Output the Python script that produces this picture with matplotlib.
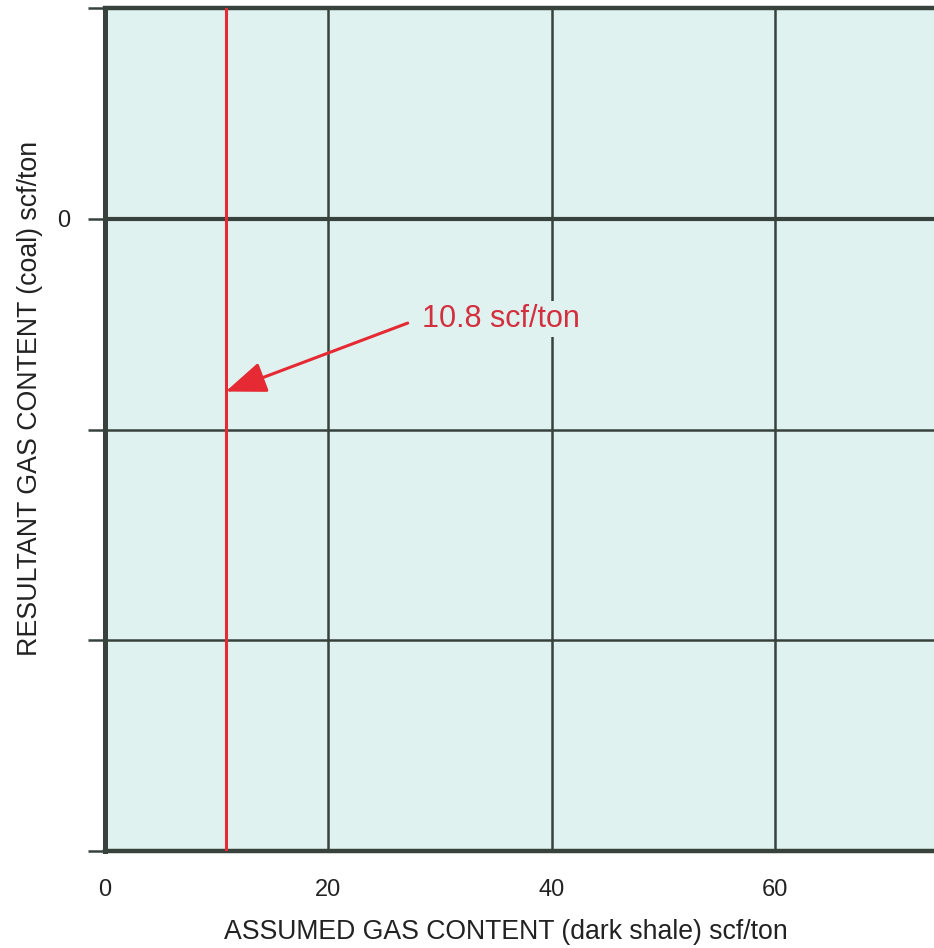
import matplotlib
matplotlib.use("Agg")
import matplotlib.pyplot as plt

plt.rcParams['font.family'] = ['Liberation Sans', 'DejaVu Sans']

# Axis scales
x_ticks = [0, 20, 40, 60, 80]
x_tick_labels = ['0', '20', '40', '60', '']
y_ticks = [-30, -20, -10, 0, 10]
y_tick_labels = ['', '', '', '0', '']
x_limits = (0, 80)
y_limits = (-30, 10)

# Marked value
threshold_value = 10.8
threshold_label = '10.8 scf/ton'
arrow_tip_y = -8.2
arrow_tail = (27.1, -4.95)
label_pos = (28.4, -4.75)

bg_color = '#dff2ef'
grid_color = '#37423d'
red = '#e52a33'
text_red = '#d42f3e'
ink = '#222222'

fig = plt.figure(figsize=(9.34, 9.48), dpi=100)
ax = fig.add_axes([105 / 934, 97 / 948, 893.6 / 934, 843 / 948])
ax.set_facecolor(bg_color)
ax.set_xlim(*x_limits)
ax.set_ylim(*y_limits)

# grid lines
for xv in x_ticks[1:]:
    ax.axvline(xv, color=grid_color, lw=1.8, zorder=1)
for yv in y_ticks[1:-1]:
    ax.axhline(yv, color=grid_color, lw=3.0 if yv == 0 else 1.8, zorder=1)

for side in ['left', 'top', 'bottom']:
    ax.spines[side].set_color(grid_color)
ax.spines['left'].set_linewidth(3.6)
ax.spines['top'].set_linewidth(3.2)
ax.spines['bottom'].set_linewidth(3.2)
ax.spines['right'].set_visible(False)

ax.set_xticks(x_ticks)
ax.set_xticklabels(x_tick_labels)
ax.set_yticks(y_ticks)
ax.set_yticklabels(y_tick_labels)
ax.tick_params(axis='x', length=0, pad=20, labelsize=17, labelcolor=ink)
ax.tick_params(axis='y', length=12, width=1.8, color=grid_color, pad=13,
               labelsize=17, labelcolor=ink)

ax.set_xlabel('ASSUMED GAS CONTENT (dark shale) scf/ton', fontsize=19.2,
              color=ink, va='center')
ax.xaxis.set_label_coords(401 / 893.6, -81 / 843)
ax.set_ylabel('RESULTANT GAS CONTENT (coal) scf/ton', fontsize=19.3,
              color=ink, va='center')
ax.yaxis.set_label_coords(-75 / 893.6, (851 - 398) / 843)

# threshold line and annotation
ax.axvline(threshold_value, color=red, lw=2.2, zorder=3)
ax.text(*label_pos, threshold_label, fontsize=22, color=text_red,
        va='center', ha='left', zorder=4,
        bbox=dict(boxstyle='square,pad=0.1', fc=bg_color, ec='none'))
ax.annotate('', xy=(threshold_value, arrow_tip_y), xytext=arrow_tail, zorder=4,
            arrowprops=dict(arrowstyle='-|>,head_length=1.25,head_width=0.48',
                            mutation_scale=20, color=red, lw=2.2,
                            shrinkA=0, shrinkB=0))

fig.savefig('out.png', dpi=100)
